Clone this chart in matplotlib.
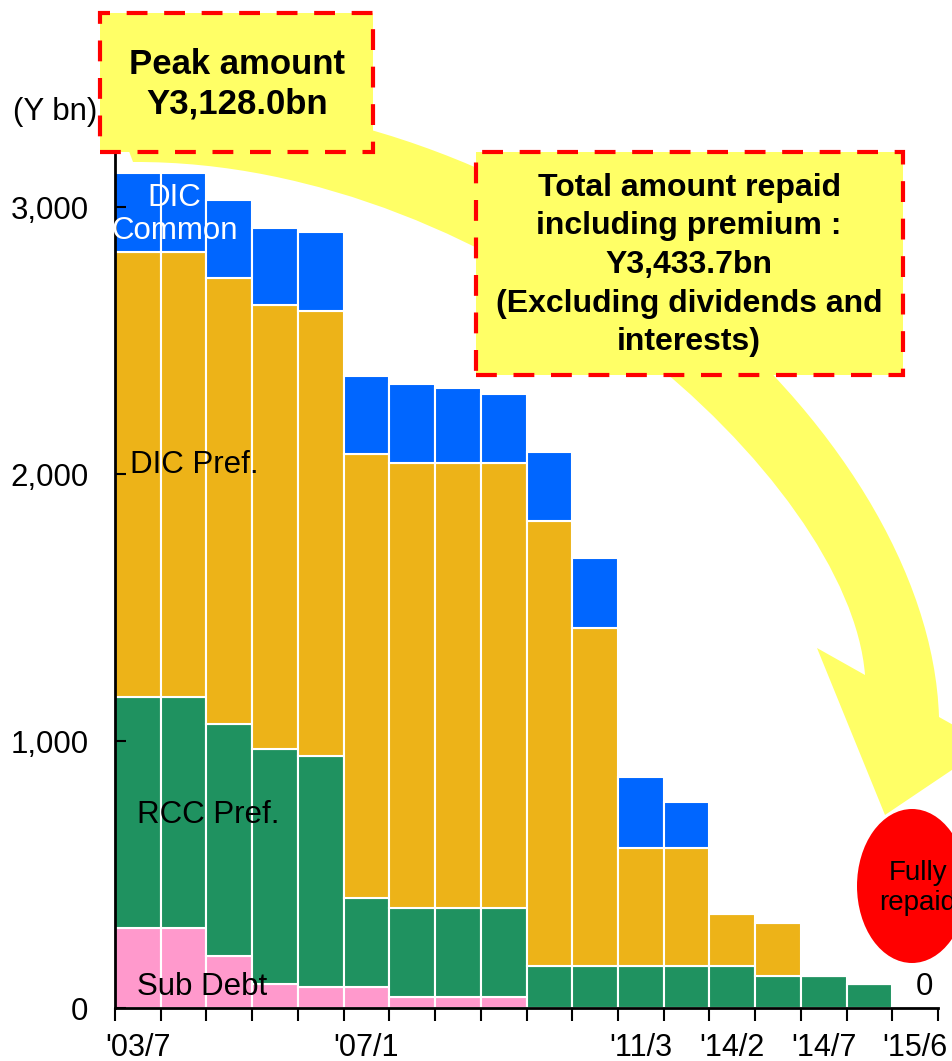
import numpy as np
from matplotlib import pyplot as plt
from matplotlib.patches import Rectangle, Ellipse, PathPatch
from matplotlib.path import Path
from matplotlib.ticker import FuncFormatter

plt.rcParams['font.family'] = ['Liberation Sans', 'DejaVu Sans']

# amounts outstanding (Y bn) per repayment date, stacked bottom to top
x_labels = ["'03/7", '', '', '', '', "'07/1", '', '', '', '', '', "'11/3", '', "'14/2", '', "'14/7", '', "'15/6"]
sub_debt = [300, 300, 195, 90, 77, 77, 42, 42, 42, 0, 0, 0, 0, 0, 0, 0, 0, 0]
rcc_pref = [866, 866, 867, 879, 868, 336, 334, 334, 334, 157, 157, 157, 157, 157, 120, 120, 90, 0]
dic_pref = [1664, 1664, 1674, 1665, 1664, 1663, 1664, 1664, 1664, 1667, 1266, 444, 444, 195, 197, 0, 0, 0]
dic_common = [298, 298, 289, 287, 298, 291, 298, 282, 260, 258, 262, 264, 169, 0, 0, 0, 0, 0]

series = [('Sub Debt', sub_debt, '#FF99CC'),
          ('RCC Pref.', rcc_pref, '#1F9260'),
          ('DIC Pref.', dic_pref, '#EDB318'),
          ('DIC Common', dic_common, '#0066FF')]

W, H = 952, 1061
fig = plt.figure(figsize=(W / 100, H / 100), dpi=100)
ax = fig.add_axes([115 / W, 1 - 1008 / H, 823 / W, 881 / H])

x = np.arange(len(x_labels))
bottom = np.zeros(len(x))
for name, vals, col in series:
    ax.bar(x, vals, bottom=bottom, width=1.0, color=col, edgecolor='white', linewidth=1.5)
    bottom += np.array(vals)

ax.set_xlim(-0.5, len(x) - 0.5)
ax.set_ylim(0, 3300)
for s in ['top', 'right']:
    ax.spines[s].set_visible(False)
for s in ['left', 'bottom']:
    ax.spines[s].set_linewidth(2)

ax.set_xticks(x)
ax.set_xticklabels(x_labels, fontsize=22)
ax.tick_params(axis='x', which='major', length=0, pad=18)
ax.set_xticks(np.arange(len(x) + 1) - 0.5, minor=True)
ax.tick_params(axis='x', which='minor', direction='out', length=9, width=1.5)

ax.set_yticks([0, 1000, 2000, 3000])
ax.yaxis.set_major_formatter(FuncFormatter(lambda v, p: f'{int(v):,}'))
ax.tick_params(axis='y', direction='in', length=8, width=1.5, labelsize=22.5, pad=19)

# series labels
ax.text(0.8, 2973, 'DIC\nCommon', color='white', fontsize=22.5, ha='center', va='center',
        linespacing=1.15)
ax.text(-0.17, 2034, 'DIC Pref.', fontsize=22.5, ha='left', va='center')
ax.text(-0.02, 723, 'RCC Pref.', fontsize=22.5, ha='left', va='center')
ax.text(-0.02, 79, 'Sub Debt', fontsize=22.5, ha='left', va='center')
ax.text(17.2, 79, '0', fontsize=22.5, ha='center', va='center')

fig.text(13 / W, 1 - 112 / H, '(Y bn)', fontsize=22.5, ha='left', va='center')


def fp(px, py):
    return (px / W, 1 - py / H)


# big yellow curved arrow
verts = [fp(110, 100), fp(540, 75), fp(930, 430), fp(939, 717),
         fp(989, 745), fp(885, 815), fp(817, 648), fp(865, 675),
         fp(850, 480), fp(500, 160), fp(133, 162),
         fp(110, 100)]
codes = [Path.MOVETO, Path.CURVE4, Path.CURVE4, Path.CURVE4,
         Path.LINETO, Path.LINETO, Path.LINETO, Path.LINETO,
         Path.CURVE4, Path.CURVE4, Path.CURVE4,
         Path.CLOSEPOLY]
arrow = PathPatch(Path(verts, codes), transform=fig.transFigure,
                  facecolor='#FFFF66', edgecolor='none', zorder=1)
fig.add_artist(arrow)

# fully repaid ellipse (cut by the right edge, as in the original)
ell = Ellipse(fp(912, 886), 110 / W, 154 / H, transform=fig.transFigure,
              facecolor='#FF0000', edgecolor='none', zorder=2)
fig.add_artist(ell)
fig.text(918 / W, 1 - 888 / H, 'Fully\nrepaid', fontsize=20, ha='center', va='center',
         linespacing=1.15, zorder=3)

# dashed callout boxes
for (x0, y0, x1, y1) in [(100, 13, 373, 152), (476, 152, 903, 375)]:
    box = Rectangle(fp(x0, y1), (x1 - x0) / W, (y1 - y0) / H, transform=fig.transFigure,
                    facecolor='#FFFF66', edgecolor='#FF0000', linewidth=3,
                    linestyle=(0, (5, 4)), zorder=2)
    fig.add_artist(box)

fig.text(237 / W, 1 - 84 / H, 'Peak amount\nY3,128.0bn', fontsize=25, fontweight='bold',
         ha='center', va='center', linespacing=1.25, zorder=3)
fig.text(689 / W, 1 - 265 / H,
         'Total amount repaid\nincluding premium :\nY3,433.7bn\n(Excluding dividends and\ninterests)',
         fontsize=23, fontweight='bold', ha='center', va='center', linespacing=1.37, zorder=3)

fig.savefig('out.png', dpi=100)
